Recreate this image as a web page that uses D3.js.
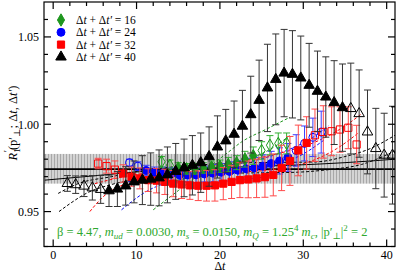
<!DOCTYPE html>
<html>
<head>
<meta charset="utf-8">
<script src="https://cdn.jsdelivr.net/npm/d3@7"></script>
<style>
  body { margin: 0; background: #fff; }
  text { font-family: "Liberation Serif", "DejaVu Serif", serif; }
</style>
</head>
<body>
<svg width="399" height="273"></svg>
<script>
// ---- data ----
var totals = [16, 24, 32, 40];

var r16 = [0.9785, 0.9765, 0.975, 0.9745, 0.9745, 0.975, 0.9755, 0.976, 0.977, 0.978, 0.980, 0.982, 0.985, 0.988, 0.989, 0.989];
var e16 = [0.003, 0.003, 0.003, 0.003, 0.003, 0.003, 0.0035, 0.0035, 0.004, 0.004, 0.0045, 0.005, 0.005, 0.0055, 0.006, 0.006];

var r24 = [0.978, 0.976, 0.9735, 0.9725, 0.972, 0.9715, 0.971, 0.971, 0.971, 0.9715, 0.972, 0.9725,
           0.973, 0.9737, 0.9745, 0.975, 0.976, 0.9775, 0.979, 0.981, 0.985, 0.989, 0.9925, 0.9955];
var e24 = [0.002, 0.0025, 0.003, 0.003, 0.0035, 0.0035, 0.004, 0.004, 0.0045, 0.0045, 0.005, 0.005,
           0.0055, 0.0055, 0.006, 0.006, 0.0065, 0.007, 0.0075, 0.008, 0.009, 0.010, 0.011, 0.012];

var r32 = [0.9775, 0.976, 0.974, 0.9718, 0.970, 0.969, 0.968, 0.9677, 0.967, 0.966, 0.9655, 0.965,
           0.9648, 0.9648, 0.965, 0.966, 0.967, 0.968, 0.9684, 0.969, 0.9697, 0.971, 0.975, 0.979,
           0.985, 0.9893, 0.9937, 0.9956, 0.996, 0.997, 0.998, 0.9884];
var e32 = [0.003, 0.004, 0.005, 0.005, 0.0055, 0.006, 0.0065, 0.007, 0.0072, 0.0075, 0.008, 0.008,
           0.0085, 0.0088, 0.009, 0.0092, 0.0095, 0.010, 0.0105, 0.011, 0.0115, 0.012, 0.013, 0.014,
           0.0145, 0.015, 0.015, 0.015, 0.014, 0.013, 0.012, 0.011];

var r40 = [0.9661, 0.9654, 0.9646, 0.9636, 0.9627, 0.9619, 0.9629, 0.9647, 0.967, 0.968, 0.9686, 0.9693,
           0.971, 0.973, 0.975, 0.9765, 0.978, 0.9815, 0.987, 0.9905, 0.9943, 0.9989, 1.0055, 1.0137,
           1.0208, 1.0257, 1.0293, 1.0286, 1.0265, 1.0223, 1.0189, 1.0156, 1.0124, 1.0095, 1.009, 1.0061,
           0.9956, 0.9861, 0.9823, 0.9823];
var e40 = [0.0045, 0.005, 0.006, 0.007, 0.008, 0.009, 0.010, 0.011, 0.012, 0.014, 0.015, 0.016,
           0.016, 0.016, 0.0165, 0.017, 0.017, 0.017, 0.0178, 0.018, 0.019, 0.0205, 0.022, 0.023,
           0.025, 0.026, 0.025, 0.025, 0.024, 0.024, 0.023, 0.023, 0.024, 0.025, 0.026, 0.025,
           0.024, 0.023, 0.024, 0.028];

// points left out of the fit (open symbols): [at start, at end]
var open16 = [2, 4], open24 = [2, 4], open32 = [3, 6], open40 = [5, 6];

// fitted constant and its error band
var bandMid = 0.9743, bandLow = 0.966, bandHigh = 0.983;

// fit curves: [x, R]
var fit16a = [[12, 0.951], [15, 0.962], [18, 0.973], [21, 0.984], [22.6, 0.9899], [25.5, 0.997], [28.4, 1.004]];
var fit16b = [[13, 0.966], [15, 0.968], [18, 0.9716], [21, 0.976], [24, 0.981], [26.5, 0.987], [28.4, 0.9937]];
var fit24a = [[8.2, 0.951], [9.5, 0.956], [11, 0.961], [13, 0.9655], [16, 0.969], [20, 0.9715], [24, 0.974], [27, 0.977], [30, 0.983], [32.5, 0.991]];
var fit24b = [[9, 0.967], [12, 0.9705], [16, 0.9735], [20, 0.976], [24, 0.979], [28, 0.985], [31, 0.992], [33, 0.999]];
var fit32a = [[4.4, 0.950], [6, 0.9585], [8, 0.9645], [10, 0.968], [13, 0.9705], [17, 0.9715], [22, 0.9725], [27, 0.9745], [31, 0.979], [34, 0.986], [36.6, 0.995]];
var fit32b = [[5, 0.966], [9, 0.9705], [14, 0.9737], [20, 0.977], [25, 0.981], [28.4, 0.985], [32, 0.991], [35, 0.999], [37, 1.006]];
var fit40a = [[0.7, 0.950], [2, 0.9545], [4, 0.9605], [7, 0.9655], [11, 0.969], [16, 0.971], [22, 0.972], [29, 0.9725], [33, 0.974], [37, 0.977], [41, 0.9847]];
var fit40b = [[0.6, 0.9604], [3, 0.966], [7, 0.970], [11, 0.9737], [17, 0.9765], [24, 0.978], [31.4, 0.9784], [35, 0.9815], [38, 0.986], [41, 0.9937]];
var fit40c = [[-1, 0.968], [5, 0.9705], [12, 0.9735], [20, 0.9752], [29, 0.9766], [35, 0.978], [41, 0.980]];

var xTicks = [0, 10, 20, 30, 40];
var yTicks = [0.95, 1.00, 1.05];

// ---- layout / style ----
var svg = d3.select('svg');
var mL = 44, mR = 395, mT = 2, mB = 246.5;
var x = d3.scaleLinear().domain([-1.1, 41]).range([mL, mR]);
var y = d3.scaleLinear().domain([0.93, 1.07]).range([mB, mT]);

var series = [
  {T: totals[0], r: r16, e: e16, open: open16, color: '#1e961e', bar: '#33b033', shift: 0,    sym: d3.symbolDiamond, size: 44, fits: [fit16a, fit16b]},
  {T: totals[1], r: r24, e: e24, open: open24, color: '#0000ff', bar: '#3c3cff', shift: 0.15, sym: d3.symbolCircle,  size: 50, fits: [fit24a, fit24b]},
  {T: totals[2], r: r32, e: e32, open: open32, color: '#ff0000', bar: '#ff4a4a', shift: 0.4,  sym: d3.symbolSquare,  size: 52, fits: [fit32a, fit32b]},
  {T: totals[3], r: r40, e: e40, open: open40, color: '#000000', bar: '#333333', shift: 0.7,  sym: d3.symbolTriangle, size: 48, fits: [fit40a, fit40b]}
];

var defs = svg.append('defs');
defs.append('clipPath').attr('id', 'clip')
  .append('rect').attr('x', mL).attr('y', mT).attr('width', mR - mL).attr('height', mB - mT);
var pat = defs.append('pattern').attr('id', 'hatch').attr('patternUnits', 'userSpaceOnUse')
  .attr('width', 3).attr('height', 3);
pat.append('rect').attr('width', 3).attr('height', 3).attr('fill', '#d4d4d4');
pat.append('rect').attr('width', 1).attr('height', 3).attr('fill', '#a8a8a8');

var plot = svg.append('g').attr('clip-path', 'url(#clip)');

// error band of the constant fit
plot.append('rect')
  .attr('x', mL).attr('width', mR - mL)
  .attr('y', y(bandHigh)).attr('height', y(bandLow) - y(bandHigh))
  .attr('fill', 'url(#hatch)');
plot.append('line')
  .attr('x1', mL).attr('x2', mR).attr('y1', y(bandMid)).attr('y2', y(bandMid))
  .attr('stroke', '#000').attr('stroke-width', 1.6);

var line = d3.line()
  .x(function(d) { return x(d[0]); })
  .y(function(d) { return y(d[1]); })
  .curve(d3.curveMonotoneX);

series.forEach(function(s) {
  s.fits.forEach(function(f) {
    plot.append('path').attr('d', line(f))
      .attr('fill', 'none').attr('stroke', s.color).attr('stroke-width', 1)
      .attr('stroke-dasharray', '3,2');
  });
});
plot.append('path').attr('d', line(fit40c))
  .attr('fill', 'none').attr('stroke', '#000').attr('stroke-width', 1);

// points with error bars
var order = [series[1], series[0], series[2], series[3]];
order.forEach(function(s) {
  var pts = s.r.map(function(v, i) {
    var dt = i + 1;
    return {
      px: x(dt + (40 - s.T) / 2 + s.shift),
      v: v, e: s.e[i],
      open: i < s.open[0] || i >= s.r.length - s.open[1]
    };
  });
  var g = plot.append('g');
  var bars = g.selectAll('g.bar').data(pts).enter().append('g')
    .attr('stroke', s.bar).attr('stroke-width', 1);
  bars.append('line')
    .attr('x1', function(d) { return d.px; }).attr('x2', function(d) { return d.px; })
    .attr('y1', function(d) { return y(d.v + d.e); }).attr('y2', function(d) { return y(d.v - d.e); });
  bars.append('line')
    .attr('x1', function(d) { return d.px - 3.5; }).attr('x2', function(d) { return d.px + 3.5; })
    .attr('y1', function(d) { return y(d.v + d.e); }).attr('y2', function(d) { return y(d.v + d.e); });
  bars.append('line')
    .attr('x1', function(d) { return d.px - 3.5; }).attr('x2', function(d) { return d.px + 3.5; })
    .attr('y1', function(d) { return y(d.v - d.e); }).attr('y2', function(d) { return y(d.v - d.e); });
  g.selectAll('path.sym').data(pts).enter().append('path')
    .attr('transform', function(d) { return 'translate(' + d.px + ',' + y(d.v) + ')'; })
    .attr('d', d3.symbol().type(s.sym).size(s.size))
    .attr('fill', function(d) { return d.open ? 'none' : s.color; })
    .attr('stroke', s.color).attr('stroke-width', 1);
});

// ---- frame and ticks ----
var frame = svg.append('g').attr('stroke', '#000').attr('stroke-width', 1.2);
frame.append('rect').attr('x', mL).attr('y', mT).attr('width', mR - mL).attr('height', mB - mT)
  .attr('fill', 'none');
d3.range(0, 41, 2).forEach(function(t) {
  var len = t % 10 === 0 ? 7 : 4;
  frame.append('line').attr('x1', x(t)).attr('x2', x(t)).attr('y1', mB).attr('y2', mB - len);
  frame.append('line').attr('x1', x(t)).attr('x2', x(t)).attr('y1', mT).attr('y2', mT + len);
});
d3.range(93, 107).forEach(function(k) {
  var t = k / 100;
  var len = k % 5 === 0 ? 7 : 4;
  frame.append('line').attr('x1', mL).attr('x2', mL + len).attr('y1', y(t)).attr('y2', y(t));
  frame.append('line').attr('x1', mR).attr('x2', mR - len).attr('y1', y(t)).attr('y2', y(t));
});

svg.selectAll('text.xt').data(xTicks).enter().append('text')
  .attr('x', function(d) { return x(d); }).attr('y', 258.5)
  .attr('text-anchor', 'middle').attr('font-size', 12).text(function(d) { return d; });
svg.selectAll('text.yt').data(yTicks).enter().append('text')
  .attr('x', 39).attr('y', function(d) { return y(d) + 4.5; })
  .attr('text-anchor', 'end').attr('font-size', 12).text(function(d) { return d.toFixed(2); });

// axis titles
var xl = svg.append('text').attr('x', x(20)).attr('y', 270).attr('text-anchor', 'middle').attr('font-size', 12);
xl.append('tspan').text('\u0394');
xl.append('tspan').attr('font-style', 'italic').text('t');

var yl = svg.append('text').attr('transform', 'translate(17,123) rotate(-90)')
  .attr('text-anchor', 'middle').attr('font-size', 12.5);
yl.append('tspan').attr('font-style', 'italic').text('R');
yl.append('tspan').attr('font-size', 9).attr('dy', 3).text('1');
yl.append('tspan').attr('font-size', 10).attr('dx', -4).attr('dy', -9).text('\u2032');
yl.append('tspan').attr('dy', 6).text('(p\u2032');
yl.append('tspan').attr('font-size', 9).attr('dy', 3).text('\u22a5');
yl.append('tspan').attr('dy', -3).text('; \u0394');
yl.append('tspan').attr('font-style', 'italic').text('t');
yl.append('tspan').text(', \u0394');
yl.append('tspan').attr('font-style', 'italic').text('t\u2032');
yl.append('tspan').text(')');

// legend
var legendY = [20, 32.3, 44.6, 57];
series.forEach(function(s, i) {
  svg.append('path')
    .attr('transform', 'translate(61,' + legendY[i] + ')')
    .attr('d', d3.symbol().type(s.sym).size(s.size))
    .attr('fill', s.color).attr('stroke', s.color);
  var t = svg.append('text').attr('x', 76).attr('y', legendY[i] + 4).attr('font-size', 11.5);
  t.append('tspan').text('\u0394');
  t.append('tspan').attr('font-style', 'italic').text('t');
  t.append('tspan').text(' + \u0394');
  t.append('tspan').attr('font-style', 'italic').text('t\u2032');
  t.append('tspan').text(' = ' + s.T);
});

// parameters
var note = svg.append('text').attr('x', 57).attr('y', 236).attr('font-size', 12.5).attr('fill', '#2ea82e');
note.append('tspan').text('\u03b2 = 4.47,  ');
note.append('tspan').attr('font-style', 'italic').text('m');
note.append('tspan').attr('font-style', 'italic').attr('font-size', 9).attr('dy', 3).text('ud');
note.append('tspan').attr('dy', -3).text(' = 0.0030,  ');
note.append('tspan').attr('font-style', 'italic').text('m');
note.append('tspan').attr('font-style', 'italic').attr('font-size', 9).attr('dy', 3).text('s');
note.append('tspan').attr('dy', -3).text(' = 0.0150,  ');
note.append('tspan').attr('font-style', 'italic').text('m');
note.append('tspan').attr('font-style', 'italic').attr('font-size', 9).attr('dy', 3).text('Q');
note.append('tspan').attr('dy', -3).text(' = 1.25');
note.append('tspan').attr('font-size', 9).attr('dy', -5).text('4');
note.append('tspan').attr('dy', 5).attr('font-style', 'italic').text(' m');
note.append('tspan').attr('font-style', 'italic').attr('font-size', 9).attr('dy', 3).text('c');
note.append('tspan').attr('dy', -3).text(',  |p\u2032');
note.append('tspan').attr('font-size', 9).attr('dy', 3).text('\u22a5');
note.append('tspan').attr('dy', -3).text('|');
note.append('tspan').attr('font-size', 9).attr('dy', -5).text('2');
note.append('tspan').attr('dy', 5).text(' = 2');
</script>
</body>
</html>
